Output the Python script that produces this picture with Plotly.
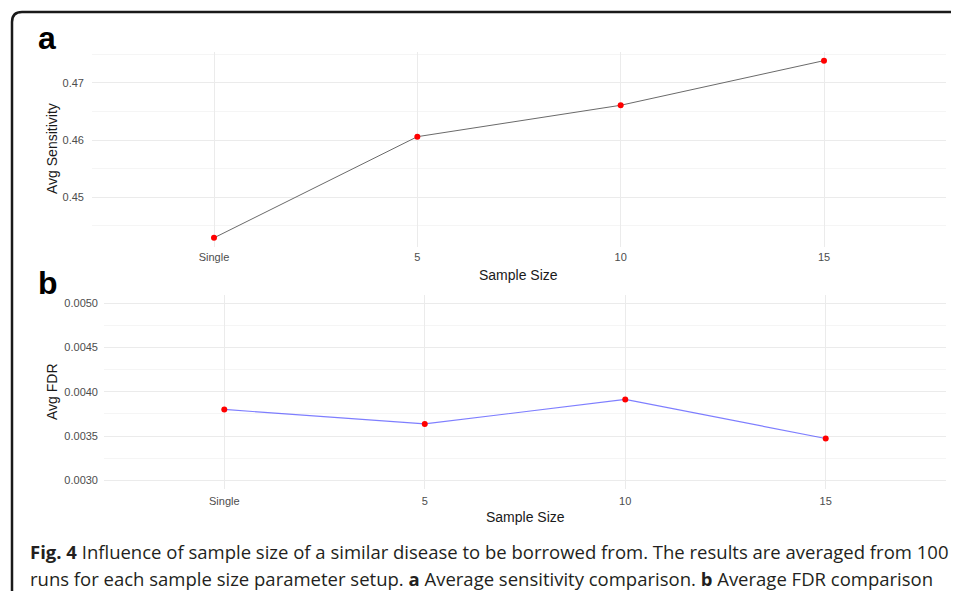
import plotly.graph_objects as go

W, H = 959, 591
OFF = 8  # browser body margin
FW, FH = W - OFF, H - OFF

categories = ["Single", "5", "10", "15"]
avg_sensitivity = [0.4429, 0.46058, 0.46607, 0.47387]
avg_fdr = [0.003801, 0.003638, 0.003914, 0.003473]

sens_ticks = [0.45, 0.46, 0.47]
sens_ticktext = ["0.45", "0.46", "0.47"]
fdr_ticks = [0.0030, 0.0035, 0.0040, 0.0045, 0.0050]
fdr_ticktext = ["0.0030", "0.0035", "0.0040", "0.0045", "0.0050"]

caption_line1 = "<b>Fig. 4</b> Influence of sample size of a similar disease to be borrowed from. The results are averaged from 100"
caption_line2 = "runs for each sample size parameter setup. <b>a</b> Average sensitivity comparison. <b>b</b> Average FDR comparison"


def px(x):
    return (x - OFF) / FW


def py(y):
    return 1 - (y - OFF) / FH


fig = go.Figure()

fig.add_trace(go.Scatter(
    x=categories, y=avg_sensitivity, mode="lines+markers",
    line=dict(color="#6a6a6a", width=1),
    marker=dict(color="#ff0000", size=6),
    xaxis="x", yaxis="y", showlegend=False,
))
fig.add_trace(go.Scatter(
    x=categories, y=avg_fdr, mode="lines+markers",
    line=dict(color="rgba(40,40,255,0.6)", width=1.2),
    marker=dict(color="#ff0000", size=6),
    xaxis="x2", yaxis="y2", showlegend=False,
))

tickfont = dict(family="Liberation Sans, Arial, sans-serif", size=11, color="#4d4d4d")
grid_major = "#ebebeb"
grid_minor = "#f5f5f5"

common_x = dict(
    type="category", categoryorder="array", categoryarray=categories,
    range=[-0.6, 3.6], showgrid=True, gridcolor=grid_major, gridwidth=1,
    zeroline=False, showline=False, ticks="", tickfont=tickfont,
)

fig.update_layout(
    width=FW, height=FH,
    margin=dict(l=0, r=0, t=0, b=0),
    paper_bgcolor="white", plot_bgcolor="white",
    xaxis=dict(domain=[px(92), px(946)], anchor="y", ticklabelstandoff=2, **common_x),
    yaxis=dict(
        domain=[py(246.7), py(51.6)], anchor="x",
        range=[0.44135, 0.47545], tickvals=sens_ticks, ticktext=sens_ticktext,
        showgrid=True, gridcolor=grid_major, gridwidth=1,
        minor=dict(showgrid=True, gridcolor=grid_minor, dtick=0.005, tick0=0.445),
        zeroline=False, showline=False, ticks="", tickfont=tickfont,
        ticklabelstandoff=7,
    ),
    xaxis2=dict(domain=[px(104), px(946)], anchor="y2", ticklabelstandoff=4, **common_x),
    yaxis2=dict(
        domain=[py(489.2), py(294.5)], anchor="x2",
        range=[0.0029, 0.0051], tickvals=fdr_ticks, ticktext=fdr_ticktext,
        showgrid=True, gridcolor=grid_major, gridwidth=1,
        minor=dict(showgrid=True, gridcolor=grid_minor, dtick=0.00025, tick0=0.003),
        zeroline=False, showline=False, ticks="", tickfont=tickfont,
        ticklabelstandoff=5,
    ),
)

title_font = dict(family="Liberation Sans, Arial, sans-serif", size=14, color="#1a1a1a")
ann = []
ann.append(dict(x=px(518), y=py(275), text="Sample Size", font=title_font,
                showarrow=False, xanchor="center", yanchor="middle", xref="paper", yref="paper"))
ann.append(dict(x=px(525), y=py(517), text="Sample Size", font=title_font,
                showarrow=False, xanchor="center", yanchor="middle", xref="paper", yref="paper"))
ann.append(dict(x=px(52), y=py(149), text="Avg Sensitivity", font=title_font, textangle=-90,
                showarrow=False, xanchor="center", yanchor="middle", xref="paper", yref="paper"))
ann.append(dict(x=px(52), y=py(392), text="Avg FDR", font=title_font, textangle=-90,
                showarrow=False, xanchor="center", yanchor="middle", xref="paper", yref="paper"))

label_font = dict(family="Liberation Sans, Arial, sans-serif", size=32, color="#000000")
ann.append(dict(x=px(36), y=py(38), text="<b>a</b>", font=label_font,
                showarrow=False, xanchor="left", yanchor="middle", xref="paper", yref="paper"))
ann.append(dict(x=px(36), y=py(283), text="<b>b</b>", font=label_font,
                showarrow=False, xanchor="left", yanchor="middle", xref="paper", yref="paper"))

cap_font = dict(family="Open Sans, sans-serif", size=18.5, color="#231f20")
ann.append(dict(x=px(28), y=py(551), text=caption_line1, font=cap_font,
                showarrow=False, xanchor="left", yanchor="middle", xref="paper", yref="paper"))
ann.append(dict(x=px(28), y=py(578), text=caption_line2, font=cap_font,
                showarrow=False, xanchor="left", yanchor="middle", xref="paper", yref="paper"))

fig.update_layout(annotations=ann)

# rounded frame (top-left corner visible)
r = 10
x0, y0 = 12, 12
path = (f"M {px(x0)},{py(H + 20)} L {px(x0)},{py(y0 + r)} "
        f"Q {px(x0)},{py(y0)} {px(x0 + r)},{py(y0)} L {px(W + 20)},{py(y0)}")
fig.add_shape(type="path", path=path, xref="paper", yref="paper",
              line=dict(color="#1a1a1a", width=2.5))

fig.write_html("out.html")
